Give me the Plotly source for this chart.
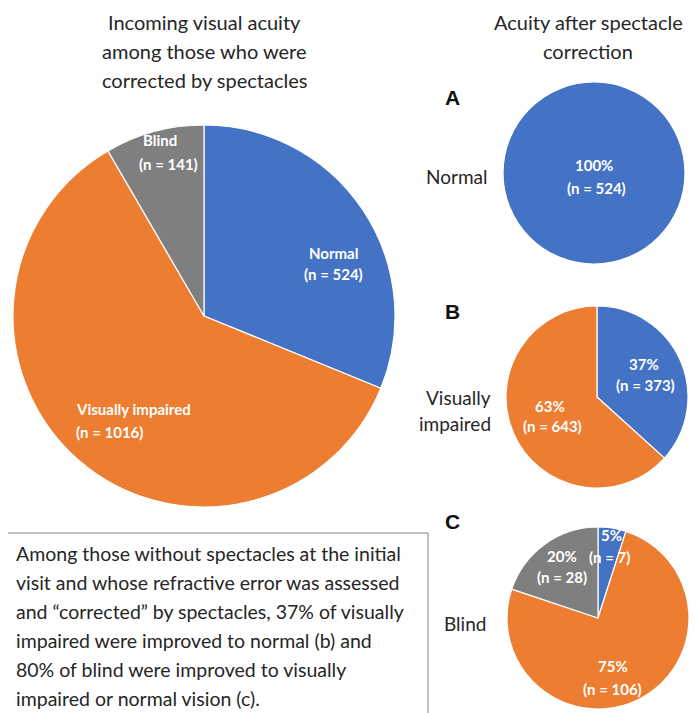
import plotly.graph_objects as go

# page body has an 8px default margin; the figure is sized so it fills the window exactly
OFF = 8
W, H = 697 - OFF, 713 - OFF

# ---- data ----
categories = ["Normal", "Visually impaired", "Blind"]
incoming_counts = [524, 1016, 141]
after_normal_labels = ["Normal"]
after_normal_counts = [524]
after_vi_labels = ["Normal", "Visually impaired"]
after_vi_counts = [373, 643]
after_blind_labels = ["Normal", "Visually impaired", "Blind"]
after_blind_counts = [7, 106, 28]
row_labels = ["Normal", "Visually impaired", "Blind"]
panel_letters = ["A", "B", "C"]
left_title = ["Incoming visual acuity", "among those who were", "corrected by spectacles"]
right_title = ["Acuity after spectacle", "correction"]
note_lines = [
    "Among those without spectacles at the initial",
    "visit and whose refractive error was assessed",
    "and \u201ccorrected\u201d by spectacles, 37% of visually",
    "impaired were improved to normal (b) and",
    "80% of blind were improved to visually",
    "impaired or normal vision (c).",
]

colors = {"Normal": "#4472C4", "Visually impaired": "#ED7D31", "Blind": "#7F7F7F"}
FONT = "Lato"
TXT = "#262626"


def px(x):
    return (x - OFF) / W


def py(y):
    return 1 - (y - OFF) / H


def dom(cx, cy, r):
    return dict(x=[px(cx - r), px(cx + r)], y=[py(cy + r), py(cy - r)])


def pie(labels, values, cx, cy, r):
    return go.Pie(
        labels=labels, values=values, sort=False, direction="clockwise", rotation=0,
        marker=dict(colors=[colors[l] for l in labels], line=dict(color="white", width=1.2)),
        textinfo="none", hoverinfo="label+value", showlegend=False,
        domain=dom(cx, cy, r),
    )


def pct(v, vals):
    return f"{round(100 * v / sum(vals))}%"


fig = go.Figure()
fig.add_trace(pie(categories, incoming_counts, 204, 316, 191))
fig.add_trace(pie(after_normal_labels, after_normal_counts, 594, 173, 91))
fig.add_trace(pie(after_vi_labels, after_vi_counts, 597, 397, 91))
fig.add_trace(pie(after_blind_labels, after_blind_counts, 598, 618, 91))

ann = []


def text(x, y, s, size=18, color=TXT, bold=False, xanchor="center", family=FONT):
    ann.append(dict(
        x=px(x), y=py(y), xref="paper", yref="paper", text=s, showarrow=False,
        xanchor=xanchor, yanchor="middle", align="left" if xanchor == "left" else "center",
        font=dict(family=family, size=size, color=color, weight="bold" if bold else "normal"),
    ))


# titles
for i, line in enumerate(left_title):
    text(204, 22 + 29 * i, line, size=20)
for i, line in enumerate(right_title):
    text(588, 22 + 29 * i, line, size=20)

# panel letters
for letter, y in zip(panel_letters, [98, 311, 521]):
    text(452, y, letter, size=21, bold=True, family="Liberation Sans", color="#111")

# row labels
text(456, 176, row_labels[0], size=19)
text(493, 397, "Visually", size=19, xanchor="right")
text(493, 423, "impaired", size=19, xanchor="right")
text(465, 623, row_labels[2], size=19)

W_ = "white"
LS = 15
# main pie labels
text(333, 253, categories[0], size=LS, color=W_, bold=True)
text(333, 274, f"(n = {incoming_counts[0]})", size=LS, color=W_, bold=True)
text(74, 409, categories[1], size=LS, color=W_, bold=True, xanchor="left")
text(74, 432, f"(n = {incoming_counts[1]})", size=LS, color=W_, bold=True, xanchor="left")
text(141, 140, categories[2], size=LS, color=W_, bold=True, xanchor="left")
text(137, 164, f"(n = {incoming_counts[2]})", size=LS, color=W_, bold=True, xanchor="left")

SS = 15
# pie A
text(594, 165, pct(after_normal_counts[0], after_normal_counts), size=SS, color=W_, bold=True)
text(596, 188, f"(n = {after_normal_counts[0]})", size=SS, color=W_, bold=True)
# pie B
text(644, 364, pct(after_vi_counts[0], after_vi_counts), size=SS, color=W_, bold=True)
text(645, 385, f"(n = {after_vi_counts[0]})", size=SS, color=W_, bold=True)
text(550, 406, pct(after_vi_counts[1], after_vi_counts), size=SS, color=W_, bold=True)
text(552, 426, f"(n = {after_vi_counts[1]})", size=SS, color=W_, bold=True)
# pie C
text(611, 535, pct(after_blind_counts[0], after_blind_counts), size=SS, color=W_, bold=True)
text(609, 557, f"(n = {after_blind_counts[0]})", size=SS, color=W_, bold=True)
text(613, 666, pct(after_blind_counts[1], after_blind_counts), size=SS, color=W_, bold=True)
text(612, 689, f"(n = {after_blind_counts[1]})", size=SS, color=W_, bold=True)
text(562, 556, pct(after_blind_counts[2], after_blind_counts), size=SS, color=W_, bold=True)
text(562, 577, f"(n = {after_blind_counts[2]})", size=SS, color=W_, bold=True)

# note box text
for i, line in enumerate(note_lines):
    text(14, 553 + 29 * i, line, size=19.5, xanchor="left")

fig.update_layout(
    width=W, height=H, margin=dict(l=0, r=0, t=0, b=0),
    paper_bgcolor="white", plot_bgcolor="white",
    annotations=ann,
    shapes=[dict(type="rect", xref="paper", yref="paper",
                 x0=px(5), x1=px(428), y0=py(725), y1=py(533),
                 line=dict(color="#808080", width=1), fillcolor="rgba(0,0,0,0)")],
)

fig.write_html("out.html")
